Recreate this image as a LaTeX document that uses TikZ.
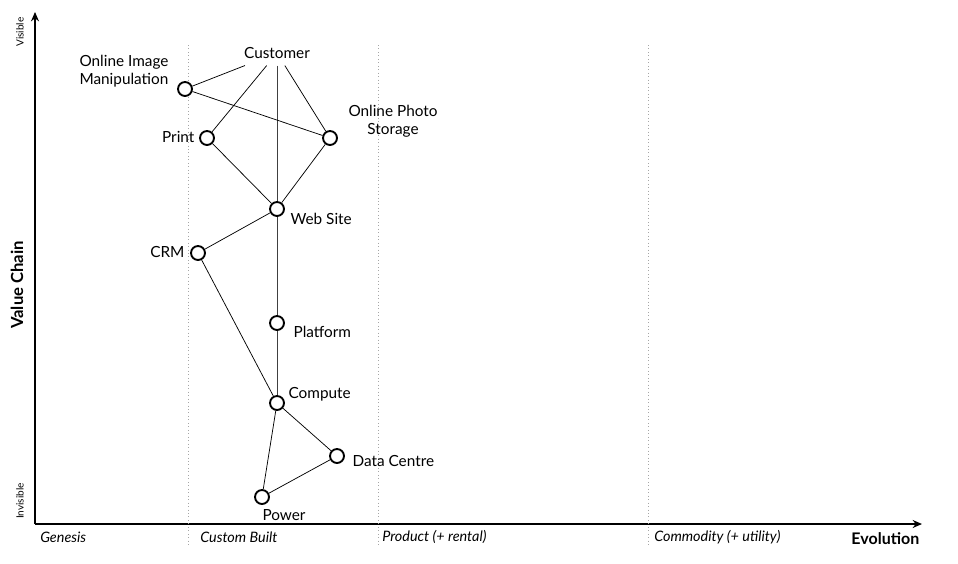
\documentclass[tikz,border=0pt]{standalone}
\usepackage{fontspec}
\setmainfont{Lato}
\usepackage{xcolor}
\usetikzlibrary{arrows.meta}

\tikzset{
  comp/.style={circle, draw=black, line width=1.4pt, fill=white, minimum size=10.5pt, inner sep=0pt},
  lbl/.style={font=\fontsize{11.5}{13.5}\selectfont, align=center, inner sep=1pt},
  stage/.style={font=\fontsize{10.8}{12}\selectfont\itshape, anchor=west, inner sep=0pt},
  link/.style={line width=0.55pt},
  axis/.style={line width=2pt, -{Stealth[length=7pt,width=6pt]}},
  divider/.style={gray!70, dotted, line width=0.6pt}
}

\begin{document}
\begin{tikzpicture}[x=0.75pt,y=0.75pt,yscale=-1,xscale=1]
\useasboundingbox (0,0) rectangle (958,564);

%Axes
\coordinate (origin) at (35,524);
\coordinate (ytop) at (35,12);
\coordinate (xend) at (922,524);
\draw [axis] (origin) -- (ytop);
\draw [axis] (origin) -- (xend);

%Stage dividers
\coordinate (d1top) at (188,45);
\coordinate (d1bot) at (188,546);
\coordinate (d2top) at (378,45);
\coordinate (d2bot) at (378,546);
\coordinate (d3top) at (648,45);
\coordinate (d3bot) at (648,546);
\draw [divider] (d1top) -- (d1bot);
\draw [divider] (d2top) -- (d2bot);
\draw [divider] (d3top) -- (d3bot);

%Components
\node [lbl, inner sep=5pt] (customer) at (277,53) {Customer};
\node [comp] (oim) at (185,89) {};
\node [comp] (print) at (207,138) {};
\node [comp] (ops) at (330,138) {};
\node [comp] (website) at (277,209) {};
\node [comp] (crm) at (198,253) {};
\node [comp] (platform) at (277,323) {};
\node [comp] (compute) at (277,403) {};
\node [comp] (datacentre) at (337,456) {};
\node [comp] (power) at (262,497) {};

%Links
\draw [link] (customer) -- (oim);
\draw [link] (customer) -- (print);
\draw [link] (customer) -- (ops);
\draw [link, black!75] (customer) -- (website);
\draw [link] (oim) -- (ops);
\draw [link] (print) -- (website);
\draw [link] (ops) -- (website);
\draw [link] (website) -- (crm);
\draw [link, black!75] (website) -- (platform);
\draw [link, black!75] (platform) -- (compute);
\draw [link] (crm) -- (compute);
\draw [link] (compute) -- (datacentre);
\draw [link] (compute) -- (power);
\draw [link] (power) -- (datacentre);

% Text Node
\node [lbl, align=left] (oimlbl) at (124,71) {Online Image\\Manipulation};
% Text Node
\node [lbl, anchor=east] (printlbl) at (196,137) {Print};
% Text Node
\node [lbl] (opslbl) at (393,121) {Online Photo\\Storage};
% Text Node
\node [lbl, anchor=west] (websitelbl) at (289,219) {Web Site};
% Text Node
\node [lbl, anchor=east] (crmlbl) at (186,252) {CRM};
% Text Node
\node [lbl, anchor=west] (platformlbl) at (292,332) {Platform};
% Text Node
\node [lbl, anchor=west] (computelbl) at (287,394) {Compute};
% Text Node
\node [lbl, anchor=west] (datacentrelbl) at (351,461) {Data Centre};
% Text Node
\node [lbl] (powerlbl) at (284,515) {Power};

% Text Node
\node [font=\fontsize{7.5}{9}\selectfont, rotate=90] (visiblelbl) at (20,32) {Visible};
% Text Node
\node [font=\fontsize{7.5}{9}\selectfont, rotate=90] (invisiblelbl) at (20,501) {Invisible};
% Text Node
\node [font=\fontsize{12.5}{14}\selectfont\bfseries, rotate=90] (chainlbl) at (17,285) {Value Chain};

% Text Node
\node [stage] (genesislbl) at (40,537) {Genesis};
% Text Node
\node [stage] (customlbl) at (200,537) {Custom Built};
% Text Node
\node [stage] (productlbl) at (382,537) {Product (+ rental)};
% Text Node
\node [stage] (commoditylbl) at (654,537) {Commodity (+ utility)};
% Text Node
\node [font=\fontsize{12}{14}\selectfont\bfseries, anchor=east] (evolutionlbl) at (924,539) {Evolution};

\end{tikzpicture}
\end{document}
